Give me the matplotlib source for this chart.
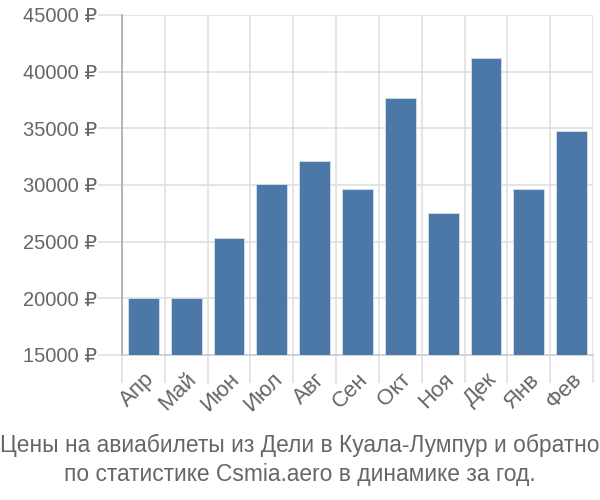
import matplotlib
matplotlib.use("Agg")
import matplotlib.pyplot as plt
import numpy as np

months = ["Апр", "Май", "Июн", "Июл", "Авг", "Сен", "Окт", "Ноя", "Дек", "Янв", "Фев"]
prices = [20000, 20000, 25350, 30050, 32150, 29650, 37680, 27500, 41210, 29610, 34740]
yticks = [15000, 20000, 25000, 30000, 35000, 40000, 45000]
title = "Цены на авиабилеты из Дели в Куала-Лумпур и обратно\nпо статистике Csmia.aero в динамике за год."

plt.rcParams['font.family'] = ['Liberation Sans', 'DejaVu Sans']

fig = plt.figure(figsize=(6, 5), dpi=100)
ax = fig.add_axes([122/600, 1-355/500, (593-122)/600, (355-15)/500])

x = np.arange(len(months))
ax.bar(x, prices, width=0.72, color="#4c78a8", edgecolor="#d6e0ec", linewidth=0.6, zorder=3, bottom=0)
ax.set_xlim(-0.5, len(months)-0.5)
ax.set_ylim(15000, 45000)

ax.set_yticks(yticks)
ax.set_yticklabels([f"{v} ₽" for v in yticks], fontsize=14.5, color="#666666")
ax.set_xticks(x)
ax.set_xticklabels(months, rotation=45, ha="right", rotation_mode="anchor", fontsize=16, color="#666666")
ax.set_xticks(np.arange(-0.5, len(months)), minor=True)

ax.tick_params(axis="x", which="major", length=0, pad=10)
ax.tick_params(axis="x", which="minor", length=20, color="#e0e0e0", width=1.2)
ax.tick_params(axis="y", which="major", length=17, color="#e0e0e0", width=1.2, pad=1)

ax.grid(True, which="minor", axis="x", color="#e0e0e0", linewidth=1.2, zorder=0)
ax.grid(True, which="major", axis="y", color="#e0e0e0", linewidth=1.2, zorder=0)

for s in ["top", "right"]:
    ax.spines[s].set_visible(False)
ax.spines["left"].set_color("#aaaaaa")
ax.spines["left"].set_linewidth(1.2)
ax.spines["bottom"].set_color("#cccccc")
ax.spines["bottom"].set_linewidth(1.2)

fig.text(0.5, 1-460/500, title, ha="center", va="center", fontsize=16.4, color="#666666", linespacing=1.3)

fig.savefig("out.png", dpi=100)
